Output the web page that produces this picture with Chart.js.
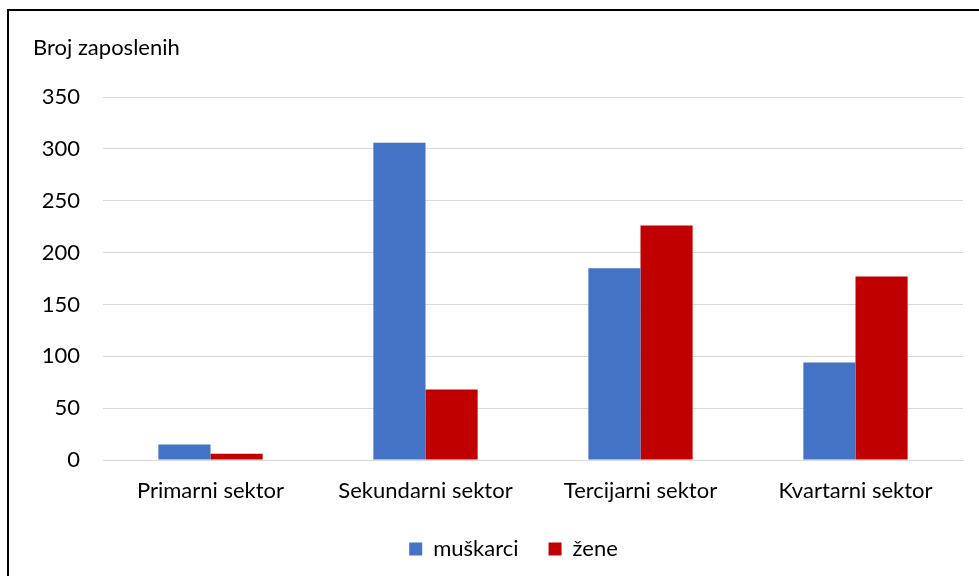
<!DOCTYPE html>
<html>
<head>
<meta charset="utf-8">
<script src="https://cdn.jsdelivr.net/npm/chart.js@4/dist/chart.umd.min.js"></script>
<style>
  body { margin: 0; background: #fff; }
  #okvir { position: absolute; left: 7px; top: 9px; width: 1200px; height: 800px; border: 2px solid #000; }
  #grafikon { position: absolute; left: 0; top: 0; }
</style>
</head>
<body>
<div id="okvir"></div>
<canvas id="grafikon" width="979" height="576"></canvas>
<script>
let sektori = ["Primarni sektor", "Sekundarni sektor", "Tercijarni sektor", "Kvartarni sektor"];
let muskarci = [15, 306, 185, 94];
let zene = [6, 68, 226, 177];
let yMax = 350;
let yKorak = 50;
let naslovOsi = "Broj zaposlenih";

const font = "Lato, 'Liberation Sans', sans-serif";
const velicina = 22;

// naslov osi gore lijevo, kao u Excelu
const naslovPlugin = {
  id: 'naslovOsi',
  afterLayout(chart) {
    // legenda u Excelu je malo desno od sredine
    chart.legend.left += 64;
  },
  afterDraw(chart) {
    let c = chart.ctx;
    c.save();
    c.font = velicina + "px " + font;
    c.fillStyle = "#000";
    c.textBaseline = "middle";
    c.fillText(naslovOsi, 33, 48);
    c.restore();
  }
};

let ctx = document.getElementById('grafikon');
let chart = new Chart(ctx, {
  type: 'bar',
  data: {
    labels: sektori,
    datasets: [
      { label: "muškarci", data: muskarci, backgroundColor: '#4472C4' },
      { label: "žene", data: zene, backgroundColor: '#C00000' }
    ]
  },
  options: {
    responsive: false,
    animation: false,
    layout: { padding: { left: 0, right: 16, top: 97, bottom: 6 } },
    datasets: { bar: { categoryPercentage: 0.485, barPercentage: 1 } },
    scales: {
      x: {
        grid: { display: false, drawTicks: false },
        border: { color: '#d9d9d9', width: 1 },
        ticks: { color: '#000', padding: 18, font: { family: font, size: velicina } },
        afterFit: s => { s.height = 48; }
      },
      y: {
        min: 0, max: yMax,
        grid: { color: '#d9d9d9', lineWidth: 1, drawTicks: false },
        border: { display: false },
        ticks: { stepSize: yKorak, color: '#000', padding: 23, font: { family: font, size: velicina } },
        afterFit: s => { s.width = 103; }
      }
    },
    plugins: {
      legend: {
        position: 'bottom',
        labels: { boxWidth: 13, boxHeight: 13, padding: 30, color: '#000', font: { family: font, size: velicina } }
      },
      tooltip: { enabled: false }
    }
  },
  plugins: [naslovPlugin]
});
</script>
</body>
</html>
